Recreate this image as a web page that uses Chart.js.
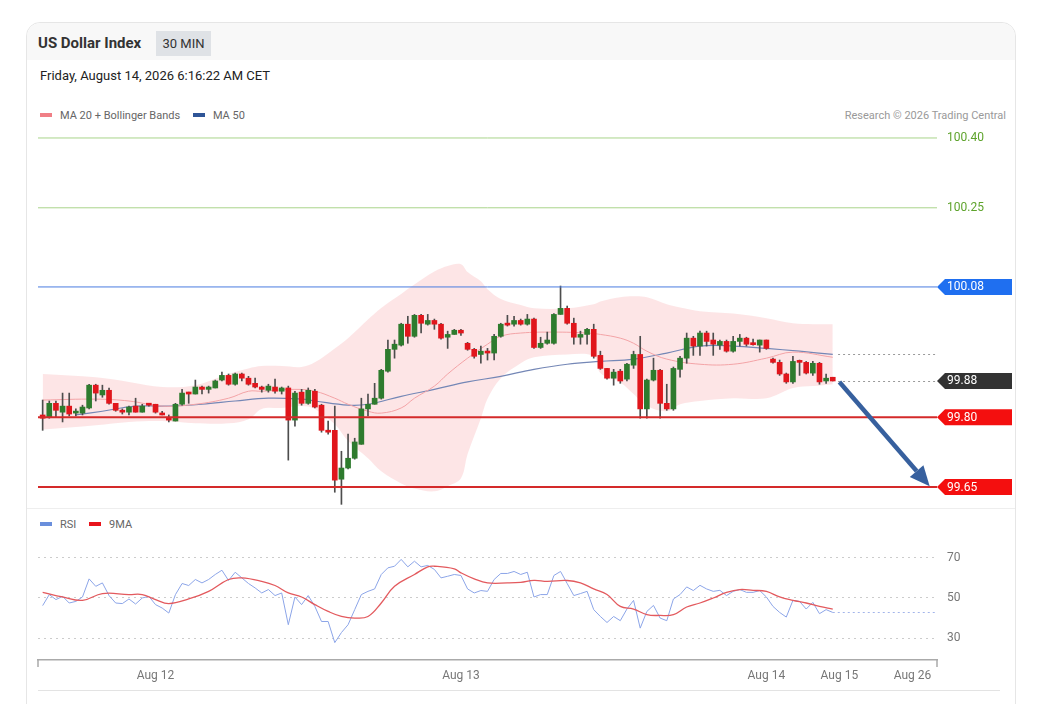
<!DOCTYPE html>
<html>
<head>
<meta charset="utf-8">
<script src="https://cdn.jsdelivr.net/npm/chart.js@4.4.1/dist/chart.umd.min.js"></script>
<style>
  body { margin: 0; width: 1044px; height: 704px; background: #fff; position: relative; overflow: hidden;
         font-family: Roboto, "Liberation Sans", Arial, sans-serif; }
  .card { position: absolute; left: 26px; top: 22px; width: 988px; height: 700px; border: 1px solid #e6e6e6; border-radius: 14px; }
  .head { position: absolute; left: 27px; top: 23px; width: 988px; height: 37px; background: #f8f8f8; border-radius: 14px 14px 0 0; }
  .title { position: absolute; left: 38px; top: 34px; font-size: 15px; font-weight: bold; color: #333; }
  .badge { position: absolute; left: 156px; top: 31px; width: 55px; height: 25px; line-height: 25px; text-align: center;
           background: #dfe2e6; font-size: 13px; color: #333; }
  .date { position: absolute; left: 40px; top: 68px; font-size: 13px; color: #222; }
  .legend { position: absolute; font-size: 11px; color: #666; white-space: nowrap; }
  .sw { display: inline-block; width: 12px; height: 4px; vertical-align: middle; margin-right: 8px; position: relative; top: -1px; }
  .credit { position: absolute; right: 38px; top: 109px; font-size: 11px; color: #999; }
  .rule { position: absolute; height: 1px; }
  canvas { position: absolute; left: 0; }
</style>
</head>
<body>
<div class="card"></div>
<div class="head"></div>
<div class="title">US Dollar Index</div>
<div class="badge">30 MIN</div>
<div class="date">Friday, August 14, 2026 6:16:22 AM CET</div>
<div class="legend" style="left:40px;top:109px;">
  <span class="sw" style="background:#f07f86"></span>MA 20 + Bollinger Bands
  <span class="sw" style="background:#2f5597;margin-left:10px"></span>MA 50
</div>
<div class="credit">Research © 2026 Trading Central</div>
<div class="rule" style="left:27px;top:508px;width:988px;background:#eeeeee"></div>
<div class="legend" style="left:40px;top:518px;">
  <span class="sw" style="background:#6a8fdc"></span>RSI
  <span class="sw" style="background:#e8141c;margin-left:10px"></span>9MA
</div>
<div class="rule" style="left:38px;top:690px;width:962px;background:#e3e3e3"></div>

<canvas id="priceChart" width="1044" height="410" style="top:100px;width:1044px;height:410px"></canvas>
<canvas id="rsiChart" width="1044" height="190" style="top:510px;width:1044px;height:190px"></canvas>

<script>
// 30 min candles (oldest first)
const opens = [99.805, 99.800, 99.830, 99.811, 99.824, 99.809, 99.809, 99.820, 99.869, 99.848,
  99.858, 99.830, 99.815, 99.811, 99.824, 99.811, 99.828, 99.828, 99.807, 99.800,
  99.792, 99.828, 99.852, 99.850, 99.865, 99.860, 99.863, 99.880, 99.890, 99.871,
  99.893, 99.884, 99.873, 99.865, 99.858, 99.865, 99.856, 99.863, 99.794, 99.854,
  99.830, 99.856, 99.826, 99.772, 99.772, 99.667, 99.691, 99.712, 99.742, 99.818,
  99.828, 99.841, 99.899, 99.946, 99.955, 100.000, 99.974, 100.019, 100.000, 100.008,
  100.000, 99.972, 99.978, 99.987, 99.959, 99.946, 99.935, 99.942, 99.938, 99.974,
  100.000, 100.000, 100.008, 100.000, 100.011, 99.950, 99.959, 99.959, 100.021, 100.034,
  100.002, 99.972, 99.978, 99.989, 99.933, 99.905, 99.884, 99.899, 99.882, 99.912,
  99.935, 99.818, 99.880, 99.901, 99.830, 99.818, 99.903, 99.927, 99.970, 99.953,
  99.981, 99.966, 99.955, 99.963, 99.942, 99.963, 99.970, 99.957, 99.955, 99.966,
  99.925, 99.918, 99.893, 99.876, 99.920, 99.918, 99.895, 99.916, 99.878, 99.886];
const highs = [99.837, 99.835, 99.835, 99.852, 99.852, 99.818, 99.826, 99.871, 99.871, 99.869,
  99.863, 99.830, 99.818, 99.824, 99.841, 99.828, 99.830, 99.828, 99.813, 99.805,
  99.830, 99.860, 99.854, 99.880, 99.867, 99.867, 99.880, 99.897, 99.893, 99.895,
  99.895, 99.888, 99.884, 99.867, 99.871, 99.882, 99.865, 99.867, 99.856, 99.860,
  99.863, 99.860, 99.828, 99.792, 99.824, 99.727, 99.764, 99.755, 99.841, 99.850,
  99.873, 99.903, 99.966, 99.966, 100.002, 100.017, 100.021, 100.021, 100.021, 100.011,
  100.002, 99.985, 99.989, 99.989, 99.961, 99.948, 99.953, 99.948, 99.978, 100.002,
  100.019, 100.017, 100.011, 100.021, 100.013, 99.972, 99.983, 100.023, 100.082, 100.039,
  100.013, 99.985, 99.991, 100.000, 99.942, 99.905, 99.903, 99.903, 99.916, 99.942,
  99.974, 99.882, 99.927, 99.903, 99.871, 99.908, 99.931, 99.981, 99.974, 99.985,
  99.985, 99.981, 99.966, 99.966, 99.974, 99.978, 99.972, 99.968, 99.966, 99.966,
  99.927, 99.923, 99.895, 99.931, 99.923, 99.920, 99.920, 99.918, 99.893, 99.886];
const lows = [99.772, 99.798, 99.800, 99.790, 99.803, 99.803, 99.805, 99.818, 99.835, 99.843,
  99.828, 99.813, 99.807, 99.805, 99.811, 99.811, 99.824, 99.809, 99.805, 99.790,
  99.792, 99.826, 99.830, 99.850, 99.850, 99.852, 99.863, 99.878, 99.869, 99.869,
  99.878, 99.869, 99.863, 99.854, 99.854, 99.852, 99.850, 99.708, 99.781, 99.826,
  99.828, 99.820, 99.768, 99.764, 99.639, 99.613, 99.689, 99.710, 99.742, 99.803,
  99.828, 99.839, 99.897, 99.927, 99.953, 99.959, 99.972, 99.981, 99.998, 99.989,
  99.968, 99.948, 99.978, 99.976, 99.944, 99.927, 99.916, 99.923, 99.923, 99.972,
  99.996, 99.996, 99.998, 99.998, 99.948, 99.948, 99.957, 99.957, 100.021, 100.000,
  99.957, 99.957, 99.957, 99.927, 99.903, 99.882, 99.869, 99.873, 99.878, 99.905,
  99.798, 99.798, 99.878, 99.798, 99.815, 99.815, 99.886, 99.916, 99.933, 99.933,
  99.953, 99.933, 99.946, 99.940, 99.940, 99.953, 99.953, 99.955, 99.940, 99.946,
  99.916, 99.890, 99.873, 99.873, 99.890, 99.893, 99.890, 99.871, 99.873, 99.878];
const closes = [99.798, 99.830, 99.815, 99.824, 99.807, 99.811, 99.822, 99.869, 99.852, 99.858,
  99.830, 99.815, 99.811, 99.822, 99.811, 99.824, 99.826, 99.811, 99.805, 99.794,
  99.828, 99.852, 99.850, 99.865, 99.860, 99.865, 99.878, 99.890, 99.871, 99.893,
  99.884, 99.871, 99.865, 99.860, 99.867, 99.856, 99.863, 99.794, 99.852, 99.830,
  99.858, 99.822, 99.772, 99.768, 99.665, 99.691, 99.712, 99.747, 99.818, 99.828,
  99.841, 99.901, 99.946, 99.957, 100.000, 99.974, 100.019, 100.002, 100.008, 100.000,
  99.970, 99.978, 99.987, 99.981, 99.946, 99.931, 99.942, 99.938, 99.974, 100.000,
  99.998, 100.008, 100.000, 100.011, 99.950, 99.959, 99.966, 100.021, 100.034, 100.002,
  99.972, 99.978, 99.989, 99.931, 99.905, 99.884, 99.897, 99.878, 99.914, 99.935,
  99.818, 99.880, 99.901, 99.830, 99.818, 99.905, 99.927, 99.970, 99.953, 99.981,
  99.963, 99.957, 99.963, 99.942, 99.963, 99.970, 99.957, 99.956, 99.966, 99.948,
  99.918, 99.893, 99.876, 99.920, 99.918, 99.895, 99.916, 99.876, 99.884, 99.878];

// Bollinger band (MA 20 +/- bands), MA 20 and MA 50, read at candle positions
const bandIdx = [0, 8, 13, 18, 23, 28, 31, 33, 36, 39, 41, 44, 46, 49, 51, 54, 56, 59, 61, 63,
  64, 66, 67, 69, 72, 74, 79, 83, 84, 87, 89, 91, 94, 96, 99, 104, 109, 113, 116, 119];
const bandUpper = [99.893, 99.886, 99.876, 99.865, 99.869, 99.893, 99.905, 99.910, 99.910, 99.908,
  99.918, 99.948, 99.970, 100.010, 100.035, 100.065, 100.085, 100.113, 100.125, 100.129,
  100.112, 100.092, 100.075, 100.054, 100.041, 100.034, 100.034, 100.043, 100.049, 100.058,
  100.060, 100.058, 100.043, 100.036, 100.028, 100.023, 100.013, 100.002, 100.000, 100.000];
const bandLower = [99.774, 99.783, 99.790, 99.792, 99.787, 99.787, 99.796, 99.818, 99.820, 99.824,
  99.818, 99.785, 99.749, 99.712, 99.684, 99.658, 99.647, 99.641, 99.652, 99.669,
  99.721, 99.798, 99.840, 99.884, 99.916, 99.929, 99.935, 99.931, 99.895, 99.875,
  99.850, 99.824, 99.813, 99.828, 99.835, 99.841, 99.841, 99.863, 99.867, 99.871];
const ma20Idx = [0, 8, 13, 18, 23, 28, 31, 33, 38, 41, 44, 46, 49, 51, 54, 56, 59, 61, 64, 67,
  69, 72, 77, 82, 84, 87, 89, 91, 94, 99, 104, 109, 113, 119];
const ma20Vals = [99.837, 99.839, 99.835, 99.824, 99.828, 99.841, 99.856, 99.856, 99.860, 99.856,
  99.841, 99.828, 99.813, 99.809, 99.820, 99.841, 99.867, 99.893, 99.927, 99.957,
  99.974, 99.981, 99.983, 99.981, 99.978, 99.970, 99.959, 99.942, 99.925, 99.914,
  99.914, 99.927, 99.940, 99.929];
const ma50Idx = [5, 9, 14, 19, 24, 29, 34, 39, 41, 46, 49, 54, 59, 64, 69, 74, 79, 84, 89, 94,
  99, 104, 109, 114, 119];
const ma50Vals = [99.805, 99.813, 99.824, 99.824, 99.828, 99.835, 99.841, 99.839, 99.835, 99.826,
  99.828, 99.845, 99.860, 99.876, 99.888, 99.903, 99.914, 99.920, 99.925, 99.938,
  99.953, 99.953, 99.948, 99.942, 99.935];

// RSI per candle and its 9 period average
const rsiVals = [46.2, 51.7, 49.2, 50.8, 47.5, 48.3, 50.5, 59.5, 55.8, 57.5,
  51.2, 47.5, 47.2, 49.5, 47.0, 50.0, 50.8, 46.7, 45.0, 42.5,
  51.7, 57.2, 56.2, 59.2, 57.5, 59.2, 61.7, 63.8, 58.7, 62.8,
  60.0, 57.2, 55.0, 52.5, 54.2, 51.2, 52.5, 36.7, 50.5, 46.7,
  51.2, 45.8, 38.3, 38.3, 27.8, 32.8, 36.7, 44.2, 51.7, 53.3,
  54.5, 61.7, 65.0, 65.8, 69.2, 65.5, 68.3, 65.5, 66.2, 64.2,
  60.0, 60.8, 61.7, 61.2, 54.5, 52.5, 53.7, 53.3, 59.2, 62.2,
  62.2, 63.2, 61.7, 62.8, 50.5, 51.7, 51.7, 61.2, 63.2, 57.2,
  51.2, 52.2, 53.3, 44.2, 40.8, 37.8, 40.8, 38.7, 44.5, 48.8,
  35.0, 43.3, 46.3, 40.0, 38.7, 49.5, 51.7, 55.5, 53.7, 56.3,
  54.5, 53.3, 53.8, 51.2, 53.3, 54.2, 52.8, 52.8, 53.7, 50.5,
  45.8, 42.8, 40.5, 48.8, 48.3, 44.5, 47.8, 42.2, 44.2, 42.8];
const ma9Idx = [0, 3, 6, 9, 13, 15, 17, 19, 22, 25, 28, 30, 33, 35, 37, 39, 41, 43, 45, 47,
  49, 51, 53, 56, 58, 59, 62, 63, 65, 67, 70, 72, 74, 76, 79, 81, 83, 85, 87, 89,
  91, 93, 95, 97, 99, 101, 103, 105, 107, 109, 111, 113, 115, 117, 119];
const ma9Vals = [52.8, 50.5, 48.8, 52.2, 51.7, 51.7, 49.2, 47.2, 49.5, 53.3, 59.2, 60.0, 58.3, 56.2, 52.5, 50.5, 46.7, 43.3, 40.8, 40.0,
  40.8, 47.5, 55.8, 61.7, 65.5, 65.8, 64.5, 62.5, 59.5, 57.5, 57.5, 57.8, 58.8, 58.3, 58.7, 57.5, 54.5, 51.7, 45.8, 44.5,
  41.7, 41.3, 41.7, 45.5, 47.5, 50.0, 52.8, 54.2, 53.8, 53.3, 50.5, 48.8, 47.5, 45.8, 44.5];

// key levels drawn on the right
const levelValues = [100.40, 100.25, 100.08, 99.80, 99.65];
const levelKinds = ['target', 'target', 'resistance', 'support', 'support'];
const arrowFrom = [120, 99.876];
const arrowTo = [133.6, 99.652];

// time axis
const xTickIdx = [17, 63, 109, 120, 131];
const xTickLabels = ['Aug 12', 'Aug 13', 'Aug 14', 'Aug 15', 'Aug 26'];
const rsiTicks = [30, 50, 70];

const xMin = -0.7, xMax = 134.7;
const priceMin = 99.603, priceMax = 100.415;
const rsiMin = 19.14, rsiMax = 83.33;

const GREEN = '#2e7b2e';
const RED = '#e0161c';
const FONT = 'Roboto, "Liberation Sans", Arial, sans-serif';
Chart.defaults.font.family = FONT;

const pts = (xs, ys) => xs.map((x, k) => ({ x: x, y: ys[k] }));
const candleIdx = opens.map((_, i) => i);

function tag(ctx, left, yPix, text, bg) {
  ctx.fillStyle = bg;
  ctx.beginPath();
  ctx.moveTo(left, yPix);
  ctx.lineTo(left + 8, yPix - 8);
  ctx.lineTo(left + 75, yPix - 8);
  ctx.lineTo(left + 75, yPix + 8);
  ctx.lineTo(left + 8, yPix + 8);
  ctx.closePath();
  ctx.fill();
  ctx.fillStyle = '#fff';
  ctx.fillText(text, left + 10, yPix + 0.5);
}

const levelPlugin = {
  id: 'levels',
  afterDatasetsDraw(chart) {
    const { ctx, chartArea: a, scales: { x, y } } = chart;
    ctx.save();
    ctx.font = '12px ' + FONT;
    ctx.textBaseline = 'middle';
    ctx.textAlign = 'left';

    // dotted guides from the last candle
    const last = closes.length - 1;
    const gx = x.getPixelForValue(last + 0.8);
    ctx.setLineDash([2, 3]);
    ctx.strokeStyle = '#9a9a9a';
    ctx.lineWidth = 1;
    [closes[last], ma50Vals[ma50Vals.length - 1]].forEach(v => {
      const py = Math.round(y.getPixelForValue(v)) + 0.5;
      ctx.beginPath(); ctx.moveTo(gx, py); ctx.lineTo(a.right, py); ctx.stroke();
    });
    ctx.setLineDash([]);

    levelValues.forEach((v, k) => {
      const py = y.getPixelForValue(v);
      const kind = levelKinds[k];
      ctx.beginPath();
      if (kind === 'target') { ctx.strokeStyle = '#a9d48a'; ctx.lineWidth = 1; }
      else if (kind === 'resistance') { ctx.strokeStyle = '#4a7be0'; ctx.lineWidth = 1; }
      else { ctx.strokeStyle = '#d42a2a'; ctx.lineWidth = 2; }
      ctx.moveTo(a.left, py); ctx.lineTo(a.right, py); ctx.stroke();
      if (kind === 'target') {
        ctx.fillStyle = '#5ea32c';
        ctx.fillText(v.toFixed(2), a.right + 10, py + 0.5);
      } else {
        tag(ctx, a.right, py, v.toFixed(2), kind === 'resistance' ? '#1f6ff0' : '#f40f0f');
      }
    });
    tag(ctx, a.right, y.getPixelForValue(closes[last]), closes[last].toFixed(2), '#333333');

    // projected move
    const p0 = { x: x.getPixelForValue(arrowFrom[0]), y: y.getPixelForValue(arrowFrom[1]) };
    const p1 = { x: x.getPixelForValue(arrowTo[0]), y: y.getPixelForValue(arrowTo[1]) };
    const ang = Math.atan2(p1.y - p0.y, p1.x - p0.x);
    const bx = p1.x - 20 * Math.cos(ang), by = p1.y - 20 * Math.sin(ang);
    ctx.strokeStyle = '#37609e'; ctx.fillStyle = '#37609e'; ctx.lineWidth = 4.5;
    ctx.beginPath(); ctx.moveTo(p0.x, p0.y); ctx.lineTo(bx, by); ctx.stroke();
    ctx.beginPath();
    ctx.moveTo(p1.x, p1.y);
    ctx.lineTo(bx + 9 * Math.sin(ang), by - 9 * Math.cos(ang));
    ctx.lineTo(bx - 9 * Math.sin(ang), by + 9 * Math.cos(ang));
    ctx.closePath(); ctx.fill();
    ctx.restore();
  }
};

new Chart(document.getElementById('priceChart'), {
  type: 'bar',
  data: {
    datasets: [
      { type: 'line', data: pts(bandIdx, bandUpper), borderColor: 'transparent', pointRadius: 0, tension: 0.35, fill: false, order: 5 },
      { type: 'line', data: pts(bandIdx, bandLower), borderColor: 'transparent', pointRadius: 0, tension: 0.35,
        fill: '-1', backgroundColor: 'rgba(252, 204, 206, 0.5)', order: 5 },
      { type: 'line', data: pts(ma20Idx, ma20Vals), borderColor: '#f3a3a6', borderWidth: 1, pointRadius: 0, tension: 0.4, fill: false, order: 3 },
      { type: 'line', data: pts(ma50Idx, ma50Vals), borderColor: '#7487b6', borderWidth: 1.2, pointRadius: 0, tension: 0.4, fill: false, order: 3 },
      { type: 'bar', data: candleIdx.map(i => ({ x: i, y: [lows[i], highs[i]] })), backgroundColor: '#4d4d4d',
        barThickness: 1, grouped: false, order: 2 },
      { type: 'bar', data: candleIdx.map(i => ({ x: i, y: [opens[i], closes[i]] })),
        backgroundColor: candleIdx.map(i => closes[i] >= opens[i] ? GREEN : RED),
        barThickness: 5, minBarLength: 2, grouped: false, order: 1 }
    ]
  },
  options: {
    responsive: false,
    animation: false,
    layout: { padding: { left: 38, right: 107, top: 31, bottom: 1 } },
    plugins: { legend: { display: false }, tooltip: { enabled: false } },
    scales: {
      x: { type: 'linear', min: xMin, max: xMax, offset: false, display: false },
      y: { type: 'linear', min: priceMin, max: priceMax, display: false }
    }
  },
  plugins: [levelPlugin]
});

const rsiPlugin = {
  id: 'rsiExtras',
  afterDraw(chart) {
    const { ctx, chartArea: a, scales: { x, y } } = chart;
    ctx.save();
    ctx.strokeStyle = '#aaa';
    ctx.lineWidth = 1.5;
    [a.left, a.right].forEach(px => {
      ctx.beginPath(); ctx.moveTo(px, a.bottom); ctx.lineTo(px, a.bottom + 7); ctx.stroke();
    });
    const last = rsiVals.length - 1;
    const py = Math.round(y.getPixelForValue(rsiVals[last])) + 0.5;
    ctx.setLineDash([2, 3]);
    ctx.strokeStyle = '#a3b5ea';
    ctx.lineWidth = 1;
    ctx.beginPath(); ctx.moveTo(x.getPixelForValue(last), py); ctx.lineTo(a.right, py); ctx.stroke();
    ctx.restore();
  }
};

new Chart(document.getElementById('rsiChart'), {
  type: 'line',
  data: {
    datasets: [
      { data: pts(candleIdx, rsiVals), borderColor: '#8ca5e8', borderWidth: 1, pointRadius: 0, tension: 0, fill: false, order: 2 },
      { data: pts(ma9Idx, ma9Vals), borderColor: '#e35a5e', borderWidth: 1.3, pointRadius: 0, tension: 0.4, fill: false, order: 1 }
    ]
  },
  options: {
    responsive: false,
    animation: false,
    layout: { padding: { left: 38, right: 0, top: 21, bottom: 10 } },
    plugins: { legend: { display: false }, tooltip: { enabled: false } },
    scales: {
      x: {
        type: 'linear', min: xMin, max: xMax, offset: false,
        grid: { display: false },
        border: { display: true, color: '#aaa', width: 1.5 },
        afterBuildTicks: s => { s.ticks = xTickIdx.map(v => ({ value: v })); },
        afterFit: s => { s.height = 30; },
        ticks: { callback: (v, i) => xTickLabels[i], color: '#777', font: { size: 12 }, padding: 1,
                 maxRotation: 0, autoSkip: false }
      },
      y: {
        position: 'right', min: rsiMin, max: rsiMax,
        afterBuildTicks: s => { s.ticks = rsiTicks.map(v => ({ value: v })); },
        afterFit: s => { s.width = 107; },
        grid: { color: '#cccccc', drawTicks: false },
        border: { display: false, dash: [2, 4] },
        ticks: { color: '#777', font: { size: 12 }, padding: 10 }
      }
    }
  },
  plugins: [rsiPlugin]
});
</script>
</body>
</html>
